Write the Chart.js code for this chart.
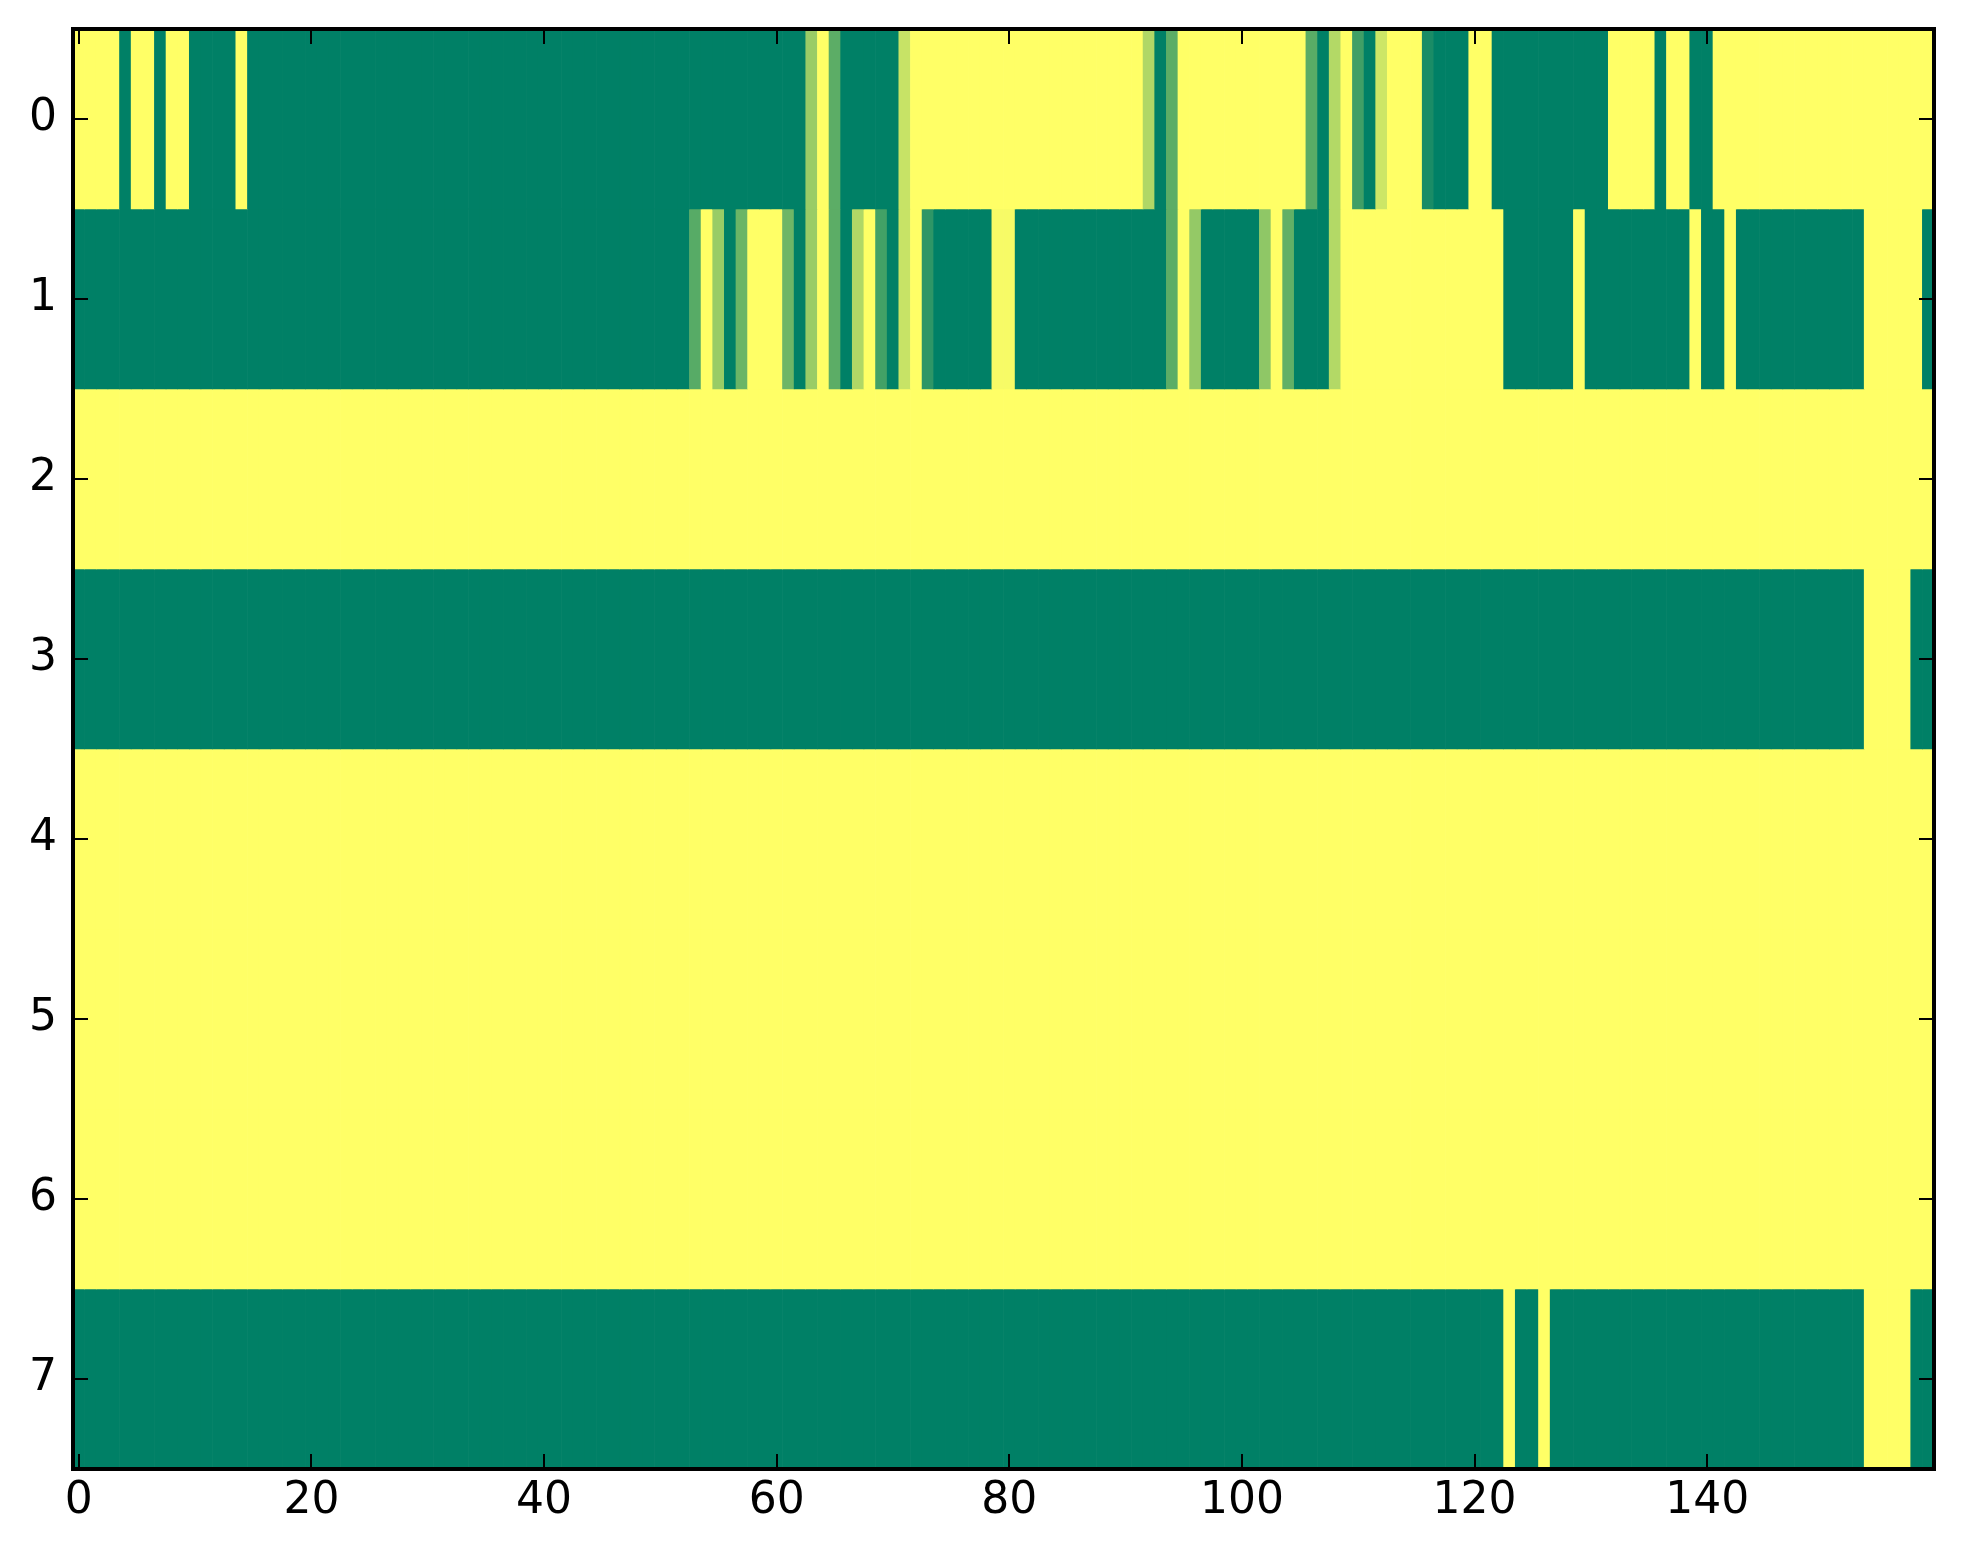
<!DOCTYPE html>
<html>
<head>
<meta charset="utf-8">
<script src="https://cdn.jsdelivr.net/npm/chart.js@4.4.1/dist/chart.umd.min.js"></script>
<style>
  html, body { margin: 0; padding: 0; background: #fff; }
  #wrap { width: 1963px; height: 1564px; }
</style>
</head>
<body>
<div id="wrap"><canvas id="heat" width="1963" height="1564"></canvas></div>
<script>
const xTicks = [0, 20, 40, 60, 80, 100, 120, 140];
const yTicks = [0, 1, 2, 3, 4, 5, 6, 7];

const row0 = [
  1,1,1,1,0,1,1,0,1,1,0,0,0,0,1,0,0,0,0,0,
  0,0,0,0,0,0,0,0,0,0,0,0,0,0,0,0,0,0,0,0,
  0,0,0,0,0,0,0,0,0,0,0,0,0,0,0,0,0,0,0,0,
  0,0,0,0.6,1,0.36,0,0,0,0,0,0.78,1,1,1,1,1,1,1,1,
  1,1,1,1,1,1,1,1,1,1,1,1,0.69,0,0.36,1,1,1,1,1,
  1,1,1,1,1,1,0.35,0,0.7,1,0.25,0,0.8,1,1,1,0.1,0,0,0,
  1,1,0,0,0,0,0,0,0,0,0,0,1,1,1,1,0,1,1,0,
  0,1,1,1,1,1,1,1,1,1,1,1,1,1,1,1,1,1,1,1
];
const row1 = [
  0,0,0,0,0,0,0,0,0,0,0,0,0,0,0,0,0,0,0,0,
  0,0,0,0,0,0,0,0,0,0,0,0,0,0,0,0,0,0,0,0,
  0,0,0,0,0,0,0,0,0,0,0,0,0,0.34,1,0.6,0,0.42,1,1,
  1,0.43,0,0.6,1,0.36,0,0.69,1,0.26,0,0.78,1,0.18,0,0,0,0,0,0.97,
  0.97,0,0,0,0,0,0,0,0,0,0,0,0,0,0.36,1,0.58,0,0,0,
  0,0,0.56,1,0.38,0,0,0,0.7,1,1,1,1,1,1,1,1,1,1,1,
  1,1,1,0,0,0,0,0,0,1,0,0,0,0,0,0,0,0,0,1,
  0,0,1,0,0,0,0,0,0,0,0,0,0,0,1,1,1,1,1,0
];
const row2 = [
  1,1,1,1,1,1,1,1,1,1,1,1,1,1,1,1,1,1,1,1,
  1,1,1,1,1,1,1,1,1,1,1,1,1,1,1,1,1,1,1,1,
  1,1,1,1,1,1,1,1,1,1,1,1,1,1,1,1,1,1,1,1,
  1,1,1,1,1,1,1,1,1,1,1,1,1,1,1,1,1,1,1,1,
  1,1,1,1,1,1,1,1,1,1,1,1,1,1,1,1,1,1,1,1,
  1,1,1,1,1,1,1,1,1,1,1,1,1,1,1,1,1,1,1,1,
  1,1,1,1,1,1,1,1,1,1,1,1,1,1,1,1,1,1,1,1,
  1,1,1,1,1,1,1,1,1,1,1,1,1,1,1,1,1,1,1,1
];
const row3 = [
  0,0,0,0,0,0,0,0,0,0,0,0,0,0,0,0,0,0,0,0,
  0,0,0,0,0,0,0,0,0,0,0,0,0,0,0,0,0,0,0,0,
  0,0,0,0,0,0,0,0,0,0,0,0,0,0,0,0,0,0,0,0,
  0,0,0,0,0,0,0,0,0,0,0,0,0,0,0,0,0,0,0,0,
  0,0,0,0,0,0,0,0,0,0,0,0,0,0,0,0,0,0,0,0,
  0,0,0,0,0,0,0,0,0,0,0,0,0,0,0,0,0,0,0,0,
  0,0,0,0,0,0,0,0,0,0,0,0,0,0,0,0,0,0,0,0,
  0,0,0,0,0,0,0,0,0,0,0,0,0,0,1,1,1,1,0,0
];
const row4 = row2.slice();
const row5 = row2.slice();
const row6 = row2.slice();
const row7 = [
  0,0,0,0,0,0,0,0,0,0,0,0,0,0,0,0,0,0,0,0,
  0,0,0,0,0,0,0,0,0,0,0,0,0,0,0,0,0,0,0,0,
  0,0,0,0,0,0,0,0,0,0,0,0,0,0,0,0,0,0,0,0,
  0,0,0,0,0,0,0,0,0,0,0,0,0,0,0,0,0,0,0,0,
  0,0,0,0,0,0,0,0,0,0,0,0,0,0,0,0,0,0,0,0,
  0,0,0,0,0,0,0,0,0,0,0,0,0,0,0,0,0,0,0,0,
  0,0,0,1,0,0,1,0,0,0,0,0,0,0,0,0,0,0,0,0,
  0,0,0,0,0,0,0,0,0,0,0,0,0,0,1,1,1,1,0,0
];
const rows = [row0, row1, row2, row3, row4, row5, row6, row7];

// matplotlib "summer" colormap
function summer(v) {
  const r = Math.round(255 * v);
  const g = Math.round(255 * (0.5 + 0.5 * v));
  return `rgb(${r},${g},102)`;
}

const datasets = rows.map((vals, r) => ({
  data: vals.map((v, c) => ({ x: c, y: [r - 0.5, r + 0.5] })),
  backgroundColor: vals.map(summer),
  borderWidth: 0,
  grouped: false,
  barPercentage: 1,
  categoryPercentage: 1
}));

const frameTicks = {
  id: 'frameTicks',
  afterDraw(chart) {
    const { ctx, chartArea: a, scales } = chart;
    const len = 15;
    ctx.save();
    ctx.strokeStyle = '#000';
    ctx.lineWidth = 2;
    ctx.beginPath();
    xTicks.forEach(v => {
      const px = Math.round(scales.x.getPixelForValue(v));
      ctx.moveTo(px, a.bottom); ctx.lineTo(px, a.bottom - len);
      ctx.moveTo(px, a.top); ctx.lineTo(px, a.top + len);
    });
    yTicks.forEach(v => {
      const py = Math.round(scales.y.getPixelForValue(v));
      ctx.moveTo(a.left, py); ctx.lineTo(a.left + len, py);
      ctx.moveTo(a.right, py); ctx.lineTo(a.right - len, py);
    });
    ctx.stroke();
    ctx.lineWidth = 4;
    ctx.strokeRect(a.left, a.top, a.right - a.left, a.bottom - a.top);
    ctx.restore();
  }
};

new Chart(document.getElementById('heat'), {
  type: 'bar',
  data: { datasets: datasets },
  options: {
    responsive: false,
    animation: false,
    layout: { padding: { top: 29, right: 29, left: 0, bottom: 0 } },
    plugins: { legend: { display: false }, tooltip: { enabled: false } },
    scales: {
      x: {
        type: 'linear',
        min: -0.5,
        max: 159.5,
        offset: false,
        grid: { display: false },
        border: { display: false },
        afterBuildTicks: s => { s.ticks = xTicks.map(v => ({ value: v })); },
        afterFit: s => { s.height = 95; s.paddingLeft = 0; s.paddingRight = 0; },
        ticks: { color: '#000', padding: -2, font: { family: 'DejaVu Sans', size: 44 } }
      },
      y: {
        type: 'linear',
        reverse: true,
        min: -0.5,
        max: 7.5,
        grid: { display: false },
        border: { display: false },
        afterBuildTicks: s => { s.ticks = yTicks.map(v => ({ value: v })); },
        afterFit: s => { s.width = 73; s.paddingTop = 0; s.paddingBottom = 0; },
        ticks: { color: '#000', padding: 8, font: { family: 'DejaVu Sans', size: 44 } }
      }
    }
  },
  plugins: [frameTicks]
});
</script>
</body>
</html>
